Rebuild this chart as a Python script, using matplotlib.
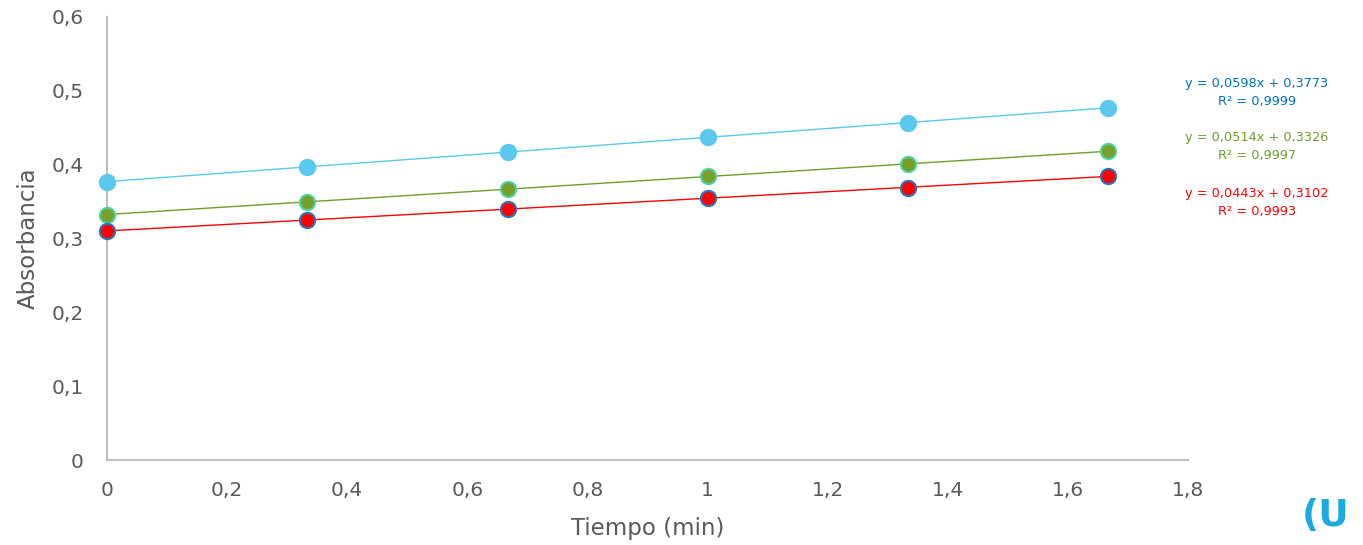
import numpy as np
import matplotlib
matplotlib.use("Agg")
import matplotlib.pyplot as plt
from matplotlib.ticker import FuncFormatter

# Data
tiempo = [0, 0.333, 0.667, 1.0, 1.333, 1.667]
abs_azul = [0.377, 0.397, 0.417, 0.437, 0.457, 0.477]
abs_verde = [0.332, 0.350, 0.367, 0.384, 0.401, 0.418]
abs_rojo = [0.310, 0.325, 0.340, 0.355, 0.369, 0.384]
ecuaciones = [("y = 0,0598x + 0,3773", "R² = 0,9999"),
              ("y = 0,0514x + 0,3326", "R² = 0,9997"),
              ("y = 0,0443x + 0,3102", "R² = 0,9993")]
xticks = [0, 0.2, 0.4, 0.6, 0.8, 1.0, 1.2, 1.4, 1.6, 1.8]
yticks = [0, 0.1, 0.2, 0.3, 0.4, 0.5, 0.6]

plt.rcParams['font.family'] = ['DejaVu Sans']

fig = plt.figure(figsize=(13.63, 5.45), dpi=100)
ax = fig.add_axes([107/1363, 1-460/545, (1188-107)/1363, (460-17)/545])

series = [
    (abs_azul, "#5BC8F0", "#5BC8F0", "#5BC8F0"),
    (abs_verde, "#77A02A", "#4FD3A0", "#6E9E2A"),
    (abs_rojo, "#FF0000", "#2E75B6", "#FF0000"),
]
x = np.array(tiempo)
for vals, fc, ec, lc in series:
    m, b = np.polyfit(x, vals, 1)
    xs = np.array([x.min(), x.max()])
    ax.plot(xs, m*xs + b, color=lc, lw=1.0, zorder=2)
    ax.plot(x, vals, 'o', ms=11, mfc=fc, mec=ec, mew=1.5, zorder=3, clip_on=False)

ax.set_xlim(0, 1.8)
ax.set_ylim(0, 0.6)
ax.set_xticks(xticks)
ax.set_yticks(yticks)
fmt = FuncFormatter(lambda v, p: ("%g" % round(v, 2)).replace(".", ","))
ax.xaxis.set_major_formatter(fmt)
ax.yaxis.set_major_formatter(fmt)
for s in ["top", "right"]:
    ax.spines[s].set_visible(False)
for s in ["left", "bottom"]:
    ax.spines[s].set_color("#BFBFBF")
    ax.spines[s].set_linewidth(1.5)
ax.tick_params(axis='both', length=0, labelsize=14.5, colors="#595959")
ax.tick_params(axis='x', pad=15)
ax.tick_params(axis='y', pad=17)
ax.set_xlabel("Tiempo (min)", fontsize=16.5, color="#595959", labelpad=12)
ax.set_ylabel("Absorbancia", fontsize=16.5, color="#595959", labelpad=8)

colores = ["#0070C0", "#6E9E2A", "#FF0000"]
ys = [83, 138, 193]
for (e, r), c, yp in zip(ecuaciones, colores, ys):
    fig.text(1257/1363, 1-yp/545, e, color=c, fontsize=9.3, ha='center', va='center')
    fig.text(1257/1363, 1-(yp+18)/545, r, color=c, fontsize=9.3, ha='center', va='center')

fig.text(1302/1363, 1-516/545, "(U", color="#1BA9E1", fontsize=27, fontweight='bold', ha='left', va='center')

fig.savefig("out.png", dpi=100)
